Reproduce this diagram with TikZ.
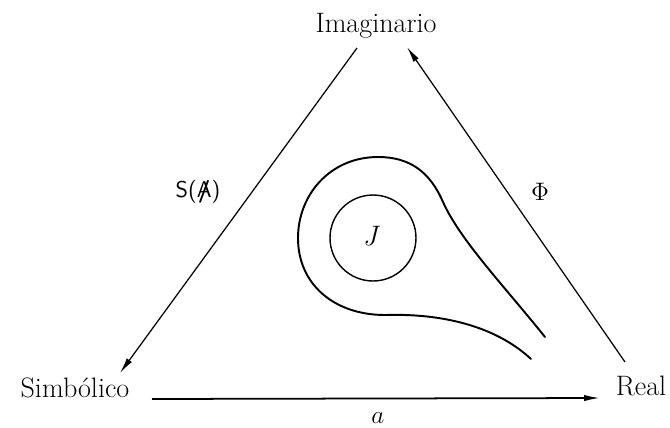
\documentclass[tikz,border=0pt]{standalone}
\usetikzlibrary{arrows.meta}
\begin{document}
\begin{tikzpicture}[x=0.02cm,y=-0.02cm,
    vertex/.style={font=\fontsize{16}{19}\selectfont,inner sep=0pt,anchor=base},
    side/.style={line width=0.7pt,-{Latex[length=9pt,width=3.6pt]}},
    curve/.style={line width=1.1pt,line cap=round}]
\useasboundingbox (0,0) rectangle (670,427);
% corners
\node[vertex] (imag) at (376,32) {Imaginario};
\node[vertex] (simb) at (75,397) {Simbólico};
\node[vertex] (real) at (641,395) {Real};
% ends of the sides
\coordinate (imagL) at (357,48);
\coordinate (imagR) at (407,47);
\coordinate (simbT) at (120,373);
\coordinate (simbR) at (152,399);
\coordinate (realT) at (625,362);
\coordinate (realL) at (600,398);
\draw[side] (imagL) -- (simbT);
\draw[side] (realT) -- (imagR);
\draw[side,line width=1pt] (simbR) -- (realL);
% labels of the sides
\node[font=\fontsize{13}{15}\sffamily] (sa) at (198,192)
    {S(\ooalign{A\cr\hidewidth\textbf{/}\hidewidth})};
\node[font=\fontsize{14}{16}\selectfont] (phi) at (540,192) {$\Phi$};
\node[font=\fontsize{15}{18}\selectfont,inner sep=0pt] (alab) at (378,418) {$a$};
% the loop round J
\draw[line width=0.8pt] (373,238) circle[radius=0.86cm];
\node[font=\fontsize{16}{19}\selectfont\itshape] (jlab) at (370,236) {J};
\draw[curve] (545,337) .. controls (505,287) and (460,240) .. (443,202)
    .. controls (430,172) and (410,157) .. (378,157)
    .. controls (330,157) and (298,195) .. (298,238)
    .. controls (298,285) and (335,315) .. (385,315)
    .. controls (450,313) and (500,330) .. (531,359);
\end{tikzpicture}
\end{document}
